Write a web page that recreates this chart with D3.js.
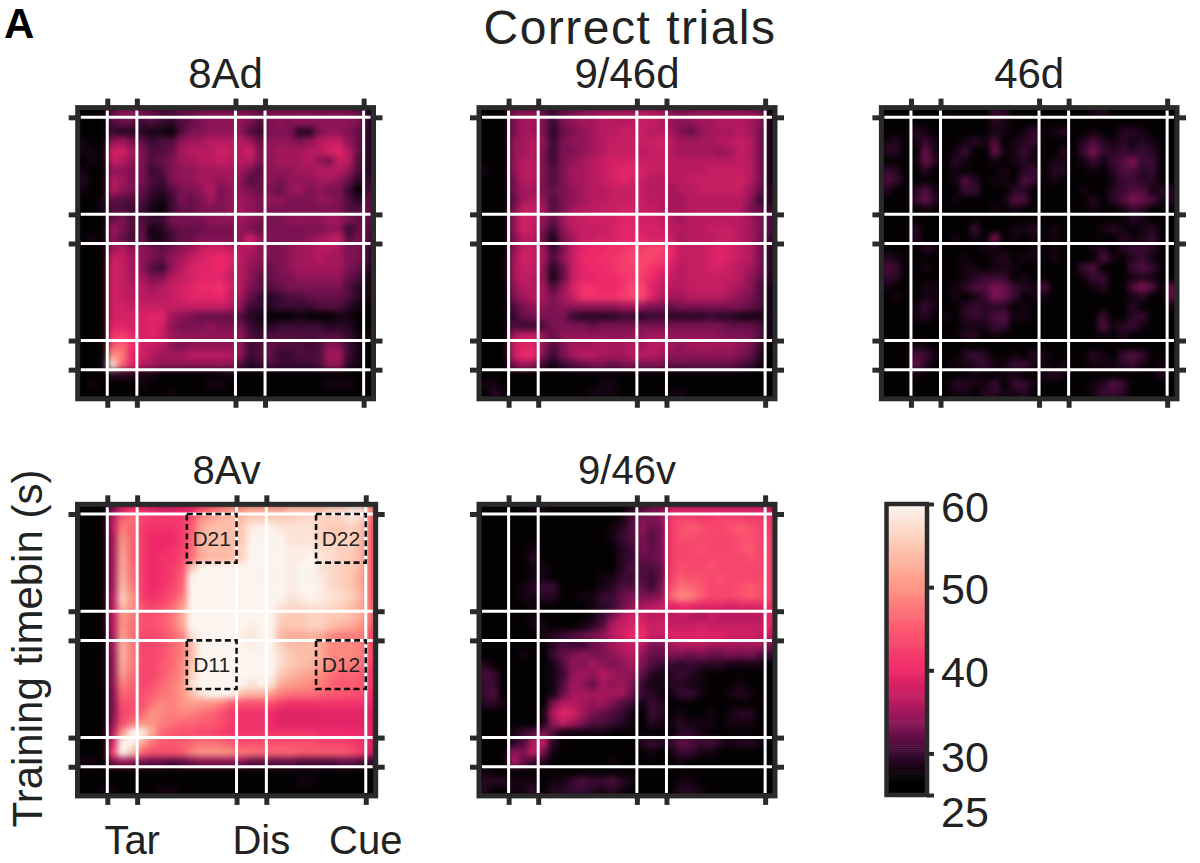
<!DOCTYPE html>
<html>
<head>
<meta charset="utf-8">
<script src="https://cdn.jsdelivr.net/npm/d3@7"></script>
<style>
body { margin: 0; background: #fff; }
text { font-family: "Liberation Sans", sans-serif; fill: #222; }
</style>
</head>
<body>
<div id="chart"></div>
<script>
// event times (s), same on both axes
var eventTimes = [0, 0.3, 1.3, 1.6, 2.6];
var colorbarTicks = [25, 30, 40, 50, 60];
var colorStops = [25, 27, 30, 33, 36, 40, 45, 50, 55, 60];
var colorValues = ["#000000", "#030102", "#3a0a33", "#7c1252", "#b81a60", "#f0286a", "#fc5a70", "#fd9684", "#fdc9b4", "#fdf6f0"];

// decoding accuracy (%), rows run top to bottom (2.7 s down to -0.3 s), 0.1 s bins
var acc8Ad = [
[27,27,27,32,34,34,33,32,31,31,32,32,33,33,33,33,33,33,32,33,33,33,33,33,33,33,33,33,32,29],
[27,27,27,31,32,32,30,31,30,29,31,32,33,34,34,34,34,33,31,33,34,33,34,34,34,34,34,34,33,29],
[27,27,27,30,29,29,29,28,28,27,31,33,33,34,34,34,34,31,30,33,33,33,29,29,33,34,34,33,32,29],
[28,27,27,34,35,33,32,30,31,31,34,35,35,36,36,36,36,35,32,34,34,34,33,34,36,37,37,34,32,29],
[28,28,27,38,38,35,33,31,31,32,35,36,36,36,38,37,36,38,33,34,35,35,35,36,36,38,39,36,32,29],
[27,28,27,37,36,34,33,31,32,33,35,35,36,36,37,36,36,36,33,34,35,35,35,36,34,33,37,36,31,29],
[28,27,27,34,34,33,33,30,31,33,34,34,35,35,35,35,35,33,31,34,34,34,35,35,36,36,36,34,31,29],
[29,27,27,36,35,33,33,31,30,33,34,34,35,35,34,35,34,31,32,34,33,34,34,34,35,35,34,32,29,30],
[28,27,27,36,34,33,32,30,29,31,33,33,34,36,33,34,34,33,32,33,32,34,35,33,34,33,33,30,27,31],
[27,27,28,32,31,31,31,29,28,30,33,32,33,35,33,34,35,34,33,34,34,33,33,33,34,34,33,31,29,32],
[27,27,28,31,31,30,30,28,27,30,32,32,33,33,33,34,35,34,33,33,33,33,33,33,33,33,33,31,31,32],
[27,27,27,32,33,31,31,30,30,33,33,33,33,34,34,34,35,34,33,33,33,34,34,34,34,35,35,33,32,32],
[27,27,27,35,33,31,32,28,29,31,32,32,32,33,33,33,34,33,32,33,33,33,33,33,33,34,34,30,32,31],
[27,28,27,34,32,30,32,28,28,30,32,32,33,33,33,33,34,38,34,33,33,33,33,34,35,36,37,31,33,31],
[27,27,27,35,36,34,34,33,32,33,34,35,37,38,38,37,36,36,34,33,33,34,35,35,36,36,35,33,33,30],
[27,27,27,37,37,35,34,33,32,34,35,37,38,39,40,39,36,35,34,33,33,34,35,35,36,35,35,33,33,30],
[27,27,27,38,37,35,34,31,30,34,36,38,39,39,40,38,36,34,33,32,33,34,35,35,35,35,35,33,32,29],
[27,27,27,38,37,35,35,33,33,36,37,38,39,39,39,37,36,34,32,32,33,33,34,34,34,34,34,32,31,28],
[27,27,27,38,37,36,36,35,36,37,38,39,40,40,41,38,36,33,32,31,32,33,33,33,33,33,33,31,29,28],
[27,27,27,38,37,36,36,36,36,37,38,39,39,39,40,37,35,32,30,29,30,31,31,32,32,32,32,31,29,28],
[27,27,27,38,38,37,37,37,37,37,37,37,37,37,37,36,34,30,30,29,30,30,30,30,31,31,31,29,28,27],
[27,27,27,38,38,38,38,39,39,35,34,33,32,32,32,32,31,29,28,27,27,27,28,27,27,27,28,28,27,27],
[27,27,27,39,39,38,38,39,38,34,33,33,33,34,33,33,33,30,29,29,30,30,30,30,30,29,29,29,27,27],
[27,27,27,41,42,40,38,39,37,35,34,34,34,34,34,34,34,31,30,31,31,31,31,31,31,31,31,30,28,28],
[27,27,27,44,46,41,38,37,36,34,33,34,34,34,34,34,34,30,31,32,31,31,31,30,31,34,33,30,28,27],
[27,27,27,50,48,39,38,36,35,35,35,36,36,36,36,36,34,30,31,32,30,30,31,31,31,35,35,30,28,27],
[27,27,28,58,46,39,36,35,34,34,34,34,34,34,34,34,31,29,30,31,30,30,30,30,31,34,34,29,28,27],
[27,27,27,29,29,29,28,28,27,27,27,27,27,27,27,28,27,27,27,27,27,27,27,27,27,27,27,27,27,27],
[27,28,27,27,27,27,28,27,27,27,27,27,27,28,28,27,27,27,27,27,27,27,27,27,27,28,28,28,27,27],
[27,27,27,27,27,27,27,27,27,28,27,27,27,27,27,27,27,27,27,27,27,27,27,27,27,27,27,27,27,27]
];

var acc946d = [
[27,27,27,33,34,34,32,30,32,33,34,34,35,35,35,35,36,36,35,34,33,34,34,34,34,34,34,34,33,28],
[27,27,27,33,35,35,33,30,33,34,35,35,36,36,36,36,37,37,36,34,34,34,35,35,36,36,36,35,34,28],
[27,27,27,33,35,35,33,29,32,33,34,35,36,36,37,37,37,36,36,35,33,32,34,35,35,35,36,35,33,28],
[27,27,27,34,35,36,34,30,33,34,34,35,36,37,37,37,37,37,38,36,35,35,35,35,36,36,37,36,33,28],
[27,27,27,34,35,36,33,30,33,33,34,35,36,37,37,37,36,37,37,36,35,35,35,35,34,35,37,36,33,28],
[27,27,27,34,36,36,33,30,33,34,35,36,37,38,38,38,37,37,37,36,36,36,36,36,36,36,37,36,33,28],
[28,27,27,34,36,36,33,31,33,35,35,36,37,38,39,39,38,37,37,36,36,36,36,37,37,37,37,36,33,28],
[27,27,27,33,36,36,33,31,33,35,35,36,37,38,39,38,37,36,36,36,36,37,37,37,37,37,38,36,33,28],
[27,27,27,33,35,35,33,32,33,34,35,36,36,37,37,37,37,36,36,35,36,36,37,37,37,37,37,35,32,29],
[27,27,27,32,35,36,34,31,33,34,35,36,36,37,37,37,37,36,36,35,35,36,36,36,36,36,36,34,30,29],
[27,27,27,33,37,37,35,31,33,35,36,36,37,37,38,38,37,37,36,35,35,36,36,36,36,36,36,33,32,30],
[27,27,27,34,38,37,34,32,35,37,37,38,38,38,39,39,38,38,37,36,35,36,36,36,36,36,36,35,33,31],
[27,27,27,34,38,37,33,30,34,36,37,37,37,38,39,39,38,38,38,36,36,36,36,37,37,37,36,35,33,31],
[27,27,27,33,36,36,32,28,33,35,37,37,38,38,39,39,39,38,38,37,35,36,36,36,37,37,36,35,33,30],
[27,27,27,34,37,37,35,30,33,37,39,40,40,41,41,42,42,43,43,40,37,37,37,38,39,38,37,36,33,29],
[27,27,27,35,38,37,35,31,34,37,40,40,41,41,42,43,43,43,42,39,37,37,37,38,39,38,37,36,33,29],
[27,27,27,35,37,37,34,29,32,37,39,40,40,41,42,42,43,41,40,38,36,37,37,38,38,37,36,35,33,29],
[27,27,27,35,37,36,34,28,32,37,39,39,40,40,41,42,42,40,38,37,36,37,37,37,37,37,36,34,32,29],
[27,27,27,34,36,36,35,31,34,38,41,41,40,40,41,43,43,39,37,36,36,37,37,37,37,36,35,34,31,28],
[27,27,27,33,35,36,35,33,35,37,41,41,41,41,42,43,43,39,36,35,35,36,36,36,36,35,34,33,31,28],
[27,27,27,31,33,34,34,33,34,34,34,34,34,34,35,35,34,33,33,32,33,33,33,33,33,33,33,32,31,28],
[27,27,27,30,32,33,33,33,33,30,29,29,29,29,30,30,29,30,30,29,29,29,29,30,29,29,28,28,28,28],
[27,27,27,31,30,30,31,33,33,33,33,32,33,33,33,33,33,33,33,33,33,33,33,33,33,32,32,32,31,28],
[27,27,27,35,37,37,34,32,34,34,34,34,34,34,34,34,34,35,35,34,34,34,34,34,33,33,33,33,31,28],
[27,27,27,37,39,39,34,31,33,35,35,35,36,35,35,36,35,36,36,35,34,35,35,35,35,35,34,33,30,27],
[27,27,27,37,40,40,33,30,33,35,36,36,35,35,35,36,36,36,35,34,34,34,34,34,34,34,33,32,29,27],
[27,27,27,33,35,34,30,28,30,31,32,33,33,32,33,33,33,33,33,32,32,32,32,32,32,32,31,30,28,27],
[27,27,27,27,27,27,27,27,27,27,27,27,27,27,27,27,27,27,27,27,27,27,27,27,27,27,27,27,27,27],
[28,28,27,27,27,27,27,27,27,27,27,27,28,28,27,27,27,27,27,27,27,27,27,27,27,27,27,27,27,27],
[27,29,28,27,27,27,27,27,27,27,27,28,28,28,27,27,27,27,27,28,28,27,27,27,27,27,27,27,27,27]
];

var acc46d = [
[27,27,27,27,27,27,28,27,27,27,27,30,29,27,27,27,27,27,27,27,27,28,29,27,27,27,27,27,27,27],
[27,27,27,27,27,27,27,27,27,27,27,29,28,27,27,27,27,27,27,27,27,27,27,27,27,27,27,27,27,27],
[27,27,27,29,28,27,27,27,27,27,27,28,28,27,28,30,27,28,29,27,27,28,27,27,29,29,28,27,27,27],
[28,29,27,28,30,28,27,27,28,29,28,31,27,28,29,30,27,27,27,27,29,31,29,28,29,28,29,28,27,27],
[29,29,27,27,32,28,27,28,30,27,27,32,28,28,30,28,27,27,29,27,30,33,30,29,30,29,30,29,27,27],
[27,27,27,28,32,29,27,29,28,27,27,28,27,28,29,28,27,28,28,27,28,30,28,30,31,33,30,30,27,27],
[30,29,27,27,29,27,27,28,27,27,27,27,28,27,29,30,27,29,29,27,27,28,27,29,31,31,29,30,27,27],
[31,30,27,27,27,27,27,28,31,29,27,28,28,27,31,30,27,28,27,27,27,27,27,28,30,30,29,29,27,27],
[29,27,27,29,31,28,27,27,30,30,27,27,27,29,29,27,27,27,27,27,28,27,27,29,30,31,31,28,29,29],
[27,27,27,30,32,29,27,28,27,27,27,27,28,31,31,27,27,27,27,27,27,29,27,29,31,33,32,31,28,29],
[27,27,27,27,28,27,27,27,27,27,27,28,27,28,27,27,27,27,27,27,27,28,27,27,28,30,29,27,27,27],
[27,27,27,27,27,27,27,27,27,27,27,27,27,27,27,27,27,27,27,27,27,27,27,27,27,29,28,27,27,27],
[27,27,27,29,27,27,27,27,27,30,27,27,27,28,28,29,27,28,27,27,27,27,28,29,28,27,28,29,27,27],
[27,27,27,29,27,27,27,28,27,28,27,33,27,28,27,28,27,28,27,27,27,27,27,27,29,28,28,30,27,27],
[27,27,27,27,29,28,27,27,27,27,28,28,27,27,27,28,27,28,27,27,27,28,29,27,29,30,30,29,27,27],
[29,28,27,27,27,27,27,27,28,27,27,28,29,27,28,28,27,28,27,27,27,27,31,28,27,29,30,28,27,27],
[31,30,27,27,28,27,27,27,28,28,27,28,28,28,27,27,27,27,27,27,30,31,27,27,27,30,31,30,27,27],
[30,29,27,27,27,27,27,27,28,29,30,30,30,27,28,27,27,27,27,27,28,30,30,27,27,28,29,28,27,27],
[28,27,27,27,28,28,27,28,29,31,31,33,32,30,29,28,31,27,27,27,27,28,29,27,27,31,33,31,27,32],
[27,28,27,27,28,28,27,28,27,28,30,33,32,30,27,28,28,27,27,27,27,27,27,27,27,28,29,27,27,32],
[27,27,27,28,30,28,27,27,29,30,29,29,29,27,28,27,27,27,27,27,27,27,27,27,27,29,27,27,27,28],
[27,27,27,28,29,27,28,27,29,30,29,31,31,28,28,27,27,27,27,27,27,27,30,27,27,29,30,27,27,27],
[27,27,27,27,27,27,27,27,28,28,28,30,30,27,27,27,27,27,27,27,27,27,31,28,29,30,28,27,27,27],
[27,27,27,27,27,27,27,27,29,29,27,28,27,27,27,27,27,27,27,27,27,27,28,27,29,27,27,27,27,27],
[27,27,27,28,28,27,27,27,27,27,27,27,27,27,27,27,27,27,27,27,27,27,27,27,27,27,27,27,27,27],
[27,27,27,31,30,28,27,27,29,30,29,27,27,28,27,29,28,27,27,27,27,29,28,27,30,31,30,27,27,27],
[27,27,27,32,29,27,27,28,28,29,30,28,28,30,30,28,28,27,28,27,27,28,28,28,29,30,28,27,28,27],
[27,27,27,28,27,27,27,27,27,28,27,27,28,28,27,27,28,29,28,27,27,27,27,27,27,27,27,27,29,27],
[27,27,27,27,27,27,27,29,29,28,28,30,27,30,30,28,27,27,27,27,27,28,29,31,30,27,27,27,27,27],
[27,27,27,27,27,27,27,28,28,27,29,29,28,28,29,27,27,27,27,27,27,28,30,30,29,27,27,27,27,27]
];

var acc8Av = [
[27,27,27,33,38,41,40,39,38,38,39,40,44,46,48,50,50,52,52,52,52,54,54,54,54,56,56,58,58,50],
[27,27,27,36,46,47,43,42,42,42,42,44,50,52,53,54,54,56,56,56,56,56,57,57,56,56,56,58,57,47],
[27,27,27,36,48,46,42,41,41,41,42,45,52,54,54,54,55,59,61,60,58,58,58,58,56,55,55,56,54,46],
[27,27,27,35,50,46,42,40,40,40,42,46,53,54,54,54,55,60,64,63,60,58,58,58,56,56,56,56,54,46],
[27,27,27,35,51,46,42,40,40,41,42,46,53,54,54,54,56,61,64,64,60,59,59,59,57,57,56,56,53,46],
[27,27,27,35,52,46,42,40,41,41,43,47,52,53,53,54,56,62,64,64,60,59,59,60,58,57,56,55,53,46],
[27,27,27,35,52,47,42,40,41,42,44,55,62,62,62,62,60,62,65,65,60,59,60,60,58,57,56,55,53,46],
[27,27,27,35,53,47,42,40,41,42,45,62,65,65,65,65,62,63,65,65,60,59,60,60,59,57,56,55,52,46],
[27,27,27,35,54,48,42,40,41,43,46,63,65,65,65,65,62,64,66,65,61,59,60,60,59,57,56,55,52,46],
[27,27,27,36,56,50,42,41,42,44,47,63,65,65,65,65,63,64,66,65,60,58,59,60,59,58,57,56,53,46],
[27,27,27,36,54,50,44,43,44,46,50,65,66,66,66,66,65,65,66,64,58,57,57,58,58,57,56,54,52,47],
[27,27,27,36,50,48,44,44,45,47,52,65,66,66,66,66,64,62,66,64,56,55,55,56,56,55,55,54,52,47],
[27,27,27,36,50,47,44,44,45,47,51,63,64,65,65,64,61,59,65,64,55,55,55,56,56,54,53,52,50,46],
[27,27,27,35,51,47,43,43,44,46,48,58,62,63,63,62,59,58,65,64,53,52,52,53,52,49,48,48,48,44],
[27,27,27,35,53,48,43,43,44,46,48,54,62,65,65,65,61,59,65,64,56,54,54,54,52,49,49,49,48,44],
[27,27,27,34,53,48,43,43,44,46,48,54,62,65,65,65,62,60,66,65,57,55,54,54,52,49,49,49,48,44],
[27,27,27,34,52,48,43,43,45,46,49,55,63,65,65,65,62,60,66,64,57,55,54,53,51,49,48,48,47,43],
[27,27,27,34,51,47,43,43,45,47,49,56,64,65,65,65,63,60,65,62,55,53,52,51,49,47,46,46,45,42],
[27,27,27,34,48,46,43,44,46,48,50,58,64,66,66,65,60,58,62,58,52,51,50,49,48,46,45,45,45,42],
[27,27,27,33,46,45,44,45,47,48,50,54,58,62,62,60,54,53,53,51,48,47,47,47,46,45,45,44,44,41],
[27,27,27,33,44,44,44,47,49,48,50,51,50,50,48,45,44,44,44,44,42,41,41,41,41,41,41,41,41,40],
[27,27,27,33,43,44,46,50,49,48,49,48,47,46,44,42,41,41,41,40,39,39,39,39,39,39,39,39,39,39],
[27,27,27,34,44,47,50,50,48,47,46,46,45,45,44,42,41,41,41,40,39,39,39,39,39,39,39,39,39,39],
[27,27,27,36,50,70,72,52,46,45,44,44,43,43,42,41,41,41,41,41,41,41,41,41,40,40,40,40,40,39],
[27,27,27,38,62,66,52,47,45,45,45,46,47,47,46,45,44,44,44,44,44,44,44,44,43,43,43,42,41,39],
[27,27,27,42,68,55,46,44,44,44,45,48,50,50,50,49,47,47,46,46,46,46,45,45,45,45,45,44,42,38],
[28,28,27,33,35,34,33,32,32,31,32,33,34,34,34,34,34,32,32,32,32,32,31,31,31,31,32,32,31,30],
[27,27,27,27,27,27,27,27,27,27,27,27,27,27,27,27,27,27,27,27,27,27,27,27,27,27,27,27,27,27],
[27,27,27,27,27,27,27,27,27,27,27,27,27,27,27,27,27,27,27,27,27,27,28,28,27,27,27,27,27,27],
[27,27,28,28,27,27,27,27,28,28,27,27,27,27,27,27,27,27,27,27,27,27,27,27,27,27,27,27,27,27]
];

var acc946v = [
[27,27,27,27,27,28,28,27,27,27,27,27,27,27,27,29,31,33,33,38,38,38,38,38,38,38,38,38,38,37],
[27,27,27,27,27,27,27,27,27,27,27,27,27,27,28,31,33,33,34,42,43,43,42,42,43,43,43,42,42,42],
[27,27,27,27,27,27,27,27,27,27,27,27,27,28,29,31,34,32,33,42,44,45,44,43,43,44,45,44,43,42],
[27,27,27,27,27,27,27,27,27,27,27,27,27,28,30,31,33,31,33,42,44,44,43,43,43,43,44,44,43,43],
[27,27,27,27,27,28,27,27,27,27,27,27,27,27,29,30,33,32,33,42,43,43,44,43,43,43,44,45,43,43],
[27,27,27,27,27,29,27,27,27,27,27,27,27,27,29,30,32,32,33,42,43,43,43,43,43,43,43,44,43,43],
[27,27,27,27,27,28,28,27,27,27,27,27,27,27,29,31,31,31,32,42,44,43,43,44,43,43,43,43,43,43],
[27,27,27,27,27,28,28,27,27,27,27,27,28,28,30,30,31,30,32,43,45,44,44,43,44,43,43,43,43,43],
[27,27,27,27,28,29,30,30,27,27,27,27,28,29,31,31,32,30,33,44,47,46,45,43,43,43,44,45,44,43],
[27,27,27,27,28,28,29,29,27,27,28,28,30,30,32,33,33,33,34,46,49,48,45,43,43,43,44,45,44,43],
[27,27,27,27,27,28,27,27,27,27,27,28,29,30,32,34,35,36,37,39,40,40,39,39,39,38,39,39,39,41],
[27,27,27,27,27,28,27,27,27,27,27,28,30,33,36,38,38,36,37,36,37,36,35,37,36,36,36,36,36,40],
[27,27,27,27,27,28,28,27,27,27,28,29,31,36,37,38,39,37,38,37,37,37,38,37,37,37,37,37,37,40],
[27,27,27,27,27,27,28,29,30,31,32,33,34,36,38,40,41,37,37,39,39,39,39,39,39,38,38,38,37,38],
[27,27,27,27,27,27,27,29,31,30,30,32,33,35,36,37,36,33,33,35,36,36,36,35,35,35,35,35,35,33],
[27,27,27,27,28,27,27,30,32,33,34,33,33,34,35,36,34,32,32,33,33,32,33,32,32,33,32,33,31,30],
[29,27,27,27,27,27,27,28,31,34,33,35,34,33,34,35,33,31,30,30,29,30,29,29,29,28,28,28,28,27],
[31,30,27,27,27,27,27,28,30,34,35,34,36,35,34,34,32,29,28,29,30,29,28,27,27,27,27,27,27,27],
[30,30,27,27,27,27,27,28,31,35,34,32,35,34,35,33,30,28,28,29,29,28,28,27,27,27,28,27,27,27],
[30,31,27,27,27,27,27,28,32,35,35,35,35,35,35,32,30,29,28,28,30,30,28,27,27,28,29,28,27,27],
[29,29,28,27,27,27,27,33,36,36,35,34,35,33,31,30,28,30,29,27,27,27,27,27,27,27,27,27,27,27],
[27,27,27,27,27,27,28,36,39,38,35,33,32,31,30,28,27,30,29,27,28,27,27,28,27,28,29,29,27,27],
[27,27,27,27,27,27,28,34,37,35,33,31,31,30,29,28,27,29,28,28,29,28,28,28,27,28,28,28,27,27],
[27,27,27,28,30,31,33,31,28,28,28,28,28,27,27,27,27,27,27,27,29,29,28,27,27,27,27,27,27,27],
[27,27,27,29,31,36,37,29,27,27,27,27,27,27,27,27,29,30,29,30,32,31,30,31,29,28,29,29,28,27],
[27,27,27,34,33,37,33,28,27,27,27,27,27,27,27,27,27,28,27,28,30,30,28,28,27,27,27,27,27,27],
[27,27,27,36,32,30,29,27,27,27,27,27,27,28,27,27,27,27,27,27,28,27,27,27,27,27,27,27,27,27],
[28,27,27,27,27,27,27,27,27,27,27,27,27,27,27,27,27,27,27,27,27,27,27,27,27,27,27,27,27,27],
[29,29,29,28,28,28,27,28,28,30,31,30,30,31,29,28,27,27,27,27,28,28,27,27,27,27,27,27,27,27],
[29,27,27,28,28,30,27,29,29,30,30,29,28,29,28,27,27,27,27,27,29,29,28,27,27,27,27,27,27,27]
];

var panels = [
    { name: "8Ad",    grid: acc8Ad,  left: 77.7,  right: 373.5,  top: 107.6, bottom: 398.8 },
    { name: "9/46d",  grid: acc946d, left: 479,   right: 775,    top: 107.6, bottom: 398.8 },
    { name: "46d",    grid: acc46d,  left: 881.4, right: 1177,   top: 107.6, bottom: 398.8 },
    { name: "8Av",    grid: acc8Av,  left: 77.5,  right: 375.7,  top: 504.3, bottom: 795.9 },
    { name: "9/46v",  grid: acc946v, left: 479,   right: 775,    top: 504.3, bottom: 795.9 }
];

// dashed decoding windows on the 8Av panel
var boxes = [
    { label: "D21", x: [0.8, 1.3], y: [2.1, 2.6] },
    { label: "D22", x: [2.1, 2.6], y: [2.1, 2.6] },
    { label: "D11", x: [0.8, 1.3], y: [0.8, 1.3] },
    { label: "D12", x: [2.1, 2.6], y: [0.8, 1.3] }
];

var dark = "#2a2a2a";
var binSize = 0.1;
var w = 1200, h = 863;

var svg = d3.select("#chart").append("svg")
    .attr("width", w)
    .attr("height", h)
    .style("display", "block");

var color = d3.scaleLinear().domain(colorStops).range(colorValues).clamp(true);

var defs = svg.append("defs");
defs.append("filter")
    .attr("id", "soft")
    .attr("x", "-5%").attr("y", "-5%").attr("width", "110%").attr("height", "110%")
    .attr("color-interpolation-filters", "sRGB")
    .append("feGaussianBlur")
    .attr("stdDeviation", 3.2);

function styleAxis(g) {
    g.select(".domain").remove();
    g.selectAll(".tick line")
        .attr("stroke", dark)
        .attr("stroke-width", 5);
    g.selectAll(".tick text").remove();
}

panels.forEach(function(p, i) {
    var x = d3.scaleLinear().domain([-0.3, 2.7]).range([p.left, p.right]);
    var y = d3.scaleLinear().domain([-0.3, 2.7]).range([p.bottom, p.top]);

    var g = svg.append("g").attr("class", "panel");

    defs.append("clipPath").attr("id", "clip" + i)
        .append("rect")
        .attr("x", p.left).attr("y", p.top)
        .attr("width", p.right - p.left).attr("height", p.bottom - p.top);

    var holder = g.append("g").attr("clip-path", "url(#clip" + i + ")");
    holder.append("rect")
        .attr("x", p.left).attr("y", p.top)
        .attr("width", p.right - p.left).attr("height", p.bottom - p.top)
        .attr("fill", "#000");

    var heat = holder.append("g").attr("filter", "url(#soft)");
    var cells = [];
    p.grid.forEach(function(row, r) {
        row.forEach(function(v, c) {
            cells.push({ r: r, c: c, v: v });
        });
    });
    heat.selectAll("rect")
        .data(cells)
        .enter()
        .append("rect")
        .attr("x", function(d){ return x(-0.3 + d.c * binSize); })
        .attr("y", function(d){ return y(2.7 - d.r * binSize); })
        .attr("width", x(binSize) - x(0) + 0.5)
        .attr("height", y(0) - y(binSize) + 0.5)
        .attr("fill", function(d){ return color(d.v); });

    // white event lines
    g.selectAll(".vline")
        .data(eventTimes)
        .enter()
        .append("line")
        .attr("x1", x).attr("x2", x)
        .attr("y1", p.top + 3).attr("y2", p.bottom - 3)
        .attr("stroke", "#fff")
        .attr("stroke-width", 3);
    g.selectAll(".hline")
        .data(eventTimes)
        .enter()
        .append("line")
        .attr("y1", y).attr("y2", y)
        .attr("x1", p.left + 3).attr("x2", p.right - 3)
        .attr("stroke", "#fff")
        .attr("stroke-width", 3);

    g.append("rect")
        .attr("x", p.left).attr("y", p.top)
        .attr("width", p.right - p.left).attr("height", p.bottom - p.top)
        .attr("fill", "none")
        .attr("stroke", dark)
        .attr("stroke-width", 5);

    var size = 9;
    g.append("g").attr("transform", "translate(0," + p.bottom + ")")
        .call(d3.axisBottom(x).tickValues(eventTimes).tickSize(size)).call(styleAxis);
    g.append("g").attr("transform", "translate(0," + p.top + ")")
        .call(d3.axisTop(x).tickValues(eventTimes).tickSize(size)).call(styleAxis);
    g.append("g").attr("transform", "translate(" + p.left + ",0)")
        .call(d3.axisLeft(y).tickValues(eventTimes).tickSize(size)).call(styleAxis);
    g.append("g").attr("transform", "translate(" + p.right + ",0)")
        .call(d3.axisRight(y).tickValues(eventTimes).tickSize(size)).call(styleAxis);

    g.append("text")
        .attr("x", (p.left + p.right) / 2)
        .attr("y", p.top - 20)
        .attr("text-anchor", "middle")
        .attr("font-size", i < 3 ? 42 : 40)
        .text(p.name);

    if (p.name == "8Av") {
        boxes.forEach(function(b) {
            g.append("rect")
                .attr("x", x(b.x[0]))
                .attr("y", y(b.y[1]))
                .attr("width", x(b.x[1]) - x(b.x[0]))
                .attr("height", y(b.y[0]) - y(b.y[1]))
                .attr("fill", "none")
                .attr("stroke", "#111")
                .attr("stroke-width", 2.6)
                .attr("stroke-dasharray", "6,3.5");
            g.append("text")
                .attr("x", x((b.x[0] + b.x[1]) / 2))
                .attr("y", y((b.y[0] + b.y[1]) / 2) + 7.5)
                .attr("text-anchor", "middle")
                .attr("font-size", 21)
                .text(b.label);
        });

        // x labels sit under the 8Av panel
        var xLabels = [["Tar", 0.25], ["Dis", 1.55], ["Cue", 2.6]];
        xLabels.forEach(function(l) {
            g.append("text")
                .attr("x", x(l[1]))
                .attr("y", 854)
                .attr("text-anchor", "middle")
                .attr("font-size", 40)
                .text(l[0]);
        });
    }
});

// colorbar
var cbLeft = 886.5, cbRight = 927;
var cbY = d3.scaleLinear().domain([25, 60]).range([795, 504]);
var cbG = svg.append("g");
cbG.selectAll("rect")
    .data(d3.range(25, 60, 0.25))
    .enter()
    .append("rect")
    .attr("x", cbLeft)
    .attr("width", cbRight - cbLeft)
    .attr("y", function(d){ return cbY(d + 0.25); })
    .attr("height", cbY(25) - cbY(25.25) + 0.5)
    .attr("fill", function(d){ return color(d); });
cbG.append("rect")
    .attr("x", cbLeft).attr("y", cbY(60))
    .attr("width", cbRight - cbLeft).attr("height", cbY(25) - cbY(60))
    .attr("fill", "none")
    .attr("stroke", dark)
    .attr("stroke-width", 4.5);

var cbAxis = cbG.append("g")
    .attr("transform", "translate(" + cbRight + ",0)")
    .call(d3.axisRight(cbY).tickValues(colorbarTicks).tickSize(7).tickPadding(7));
cbAxis.select(".domain").remove();
cbAxis.selectAll(".tick line").attr("stroke", dark).attr("stroke-width", 4);
var cbLabelShift = { 25: 31, 30: 18, 40: 16.5, 50: 16, 60: 17 };
cbAxis.selectAll(".tick text")
    .attr("font-size", 43)
    .attr("font-family", "Liberation Sans")
    .attr("fill", "#222")
    .attr("dy", function(d){ return cbLabelShift[d]; });

// headings
svg.append("text").attr("x", 630).attr("y", 44)
    .attr("text-anchor", "middle").attr("font-size", 48)
    .attr("letter-spacing", 1.5).text("Correct trials");
svg.append("text").attr("x", 4).attr("y", 38)
    .attr("font-size", 42).attr("font-weight", "bold").style("fill", "#000").text("A");
svg.append("text")
    .attr("transform", "translate(42,648.5) rotate(-90)")
    .attr("text-anchor", "middle")
    .attr("font-size", 42)
    .text("Training timebin (s)");
</script>
</body>
</html>
